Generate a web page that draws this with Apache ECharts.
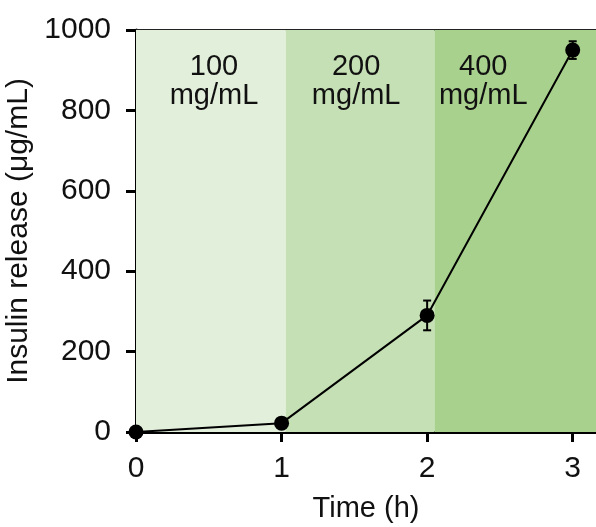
<!DOCTYPE html>
<html>
<head>
<meta charset="utf-8">
<script src="https://cdn.jsdelivr.net/npm/echarts@6/dist/echarts.min.js"></script>
<style>html,body{margin:0;padding:0;background:#fff;}#c{width:596px;height:527px;}</style>
</head>
<body>
<div id="c"></div>
<script>
const timeH = [0, 1, 2, 3];
const insulin = [0, 22, 290, 950];
const insulinErr = [0, 0, 37, 22];
const bandEdges = [0, 1.03, 2.05, 3.16];
const bandLabels = ['100\nmg/mL', '200\nmg/mL', '400\nmg/mL'];
const bandColors = ['#e2efda', '#c5e0b4', '#a9d18e'];
const xTicks = [0, 1, 2, 3];

const FONT = 'Liberation Sans, Arial, sans-serif';
const labelOffsets = [[3, 0], [-4, 0], [-32, 0]];

const chart = echarts.init(document.getElementById('c'), null, {renderer: 'canvas'});

const areaData = bandLabels.map((t, i) => [
  {xAxis: bandEdges[i], itemStyle: {color: bandColors[i], opacity: 1},
   label: {show: true, formatter: t, position: 'insideTop', distance: 22, offset: labelOffsets[i],
           fontSize: 29, lineHeight: 29, color: '#111', fontFamily: FONT, align: 'center'}},
  {xAxis: bandEdges[i + 1]}
]);

chart.setOption({
  animation: false,
  grid: {left: 136, right: 0, top: 30, bottom: 95, containLabel: false, outerBoundsMode: 'none'},
  xAxis: [{
    type: 'value', min: 0, max: bandEdges[3], interval: 1,
    name: 'Time (h)', nameLocation: 'middle', nameGap: 62,
    nameTextStyle: {fontSize: 29, color: '#111', fontFamily: FONT},
    axisLine: {show: true, onZero: false, lineStyle: {color: '#000', width: 3}},
    axisTick: {show: true, length: 10, inside: false, customValues: xTicks, lineStyle: {color: '#000', width: 3}},
    axisLabel: {customValues: xTicks, fontSize: 30, color: '#111', fontFamily: FONT, margin: 22},
    splitLine: {show: false}
  }, {
    type: 'value', position: 'top', min: 0, max: bandEdges[3],
    axisLine: {show: true, onZero: false, lineStyle: {color: '#222', width: 2}},
    axisTick: {show: false}, axisLabel: {show: false}, splitLine: {show: false}
  }],
  yAxis: {
    type: 'value', min: 0, max: 1000, interval: 200,
    name: 'Insulin release (μg/mL)', nameLocation: 'middle', nameGap: 90, nameRotate: 90,
    nameTextStyle: {fontSize: 30, color: '#111', fontFamily: FONT},
    axisLine: {show: true, lineStyle: {color: '#000', width: 3}},
    axisTick: {show: true, length: 10, lineStyle: {color: '#000', width: 3}},
    axisLabel: {fontSize: 30, color: '#111', fontFamily: FONT, margin: 25, formatter: v => String(v)},
    splitLine: {show: false}
  },
  series: [{
    type: 'line',
    data: timeH.map((t, i) => [t, insulin[i]]),
    symbol: 'circle', symbolSize: 15,
    itemStyle: {color: '#000'},
    lineStyle: {color: '#000', width: 2},
    z: 5,
    markArea: {silent: true, data: areaData}
  }, {
    type: 'custom',
    z: 4,
    data: timeH.map((t, i) => [t, insulin[i] - insulinErr[i], insulin[i] + insulinErr[i]]),
    renderItem: function (params, api) {
      const x = api.value(0);
      const lo = api.coord([x, api.value(1)]);
      const hi = api.coord([x, api.value(2)]);
      const w = 4;
      const st = {stroke: '#000', lineWidth: 2};
      return {type: 'group', children: [
        {type: 'line', shape: {x1: lo[0], y1: lo[1], x2: hi[0], y2: hi[1]}, style: st},
        {type: 'line', shape: {x1: lo[0] - w, y1: lo[1], x2: lo[0] + w, y2: lo[1]}, style: st},
        {type: 'line', shape: {x1: hi[0] - w, y1: hi[1], x2: hi[0] + w, y2: hi[1]}, style: st}
      ]};
    }
  }]
});
</script>
</body>
</html>
